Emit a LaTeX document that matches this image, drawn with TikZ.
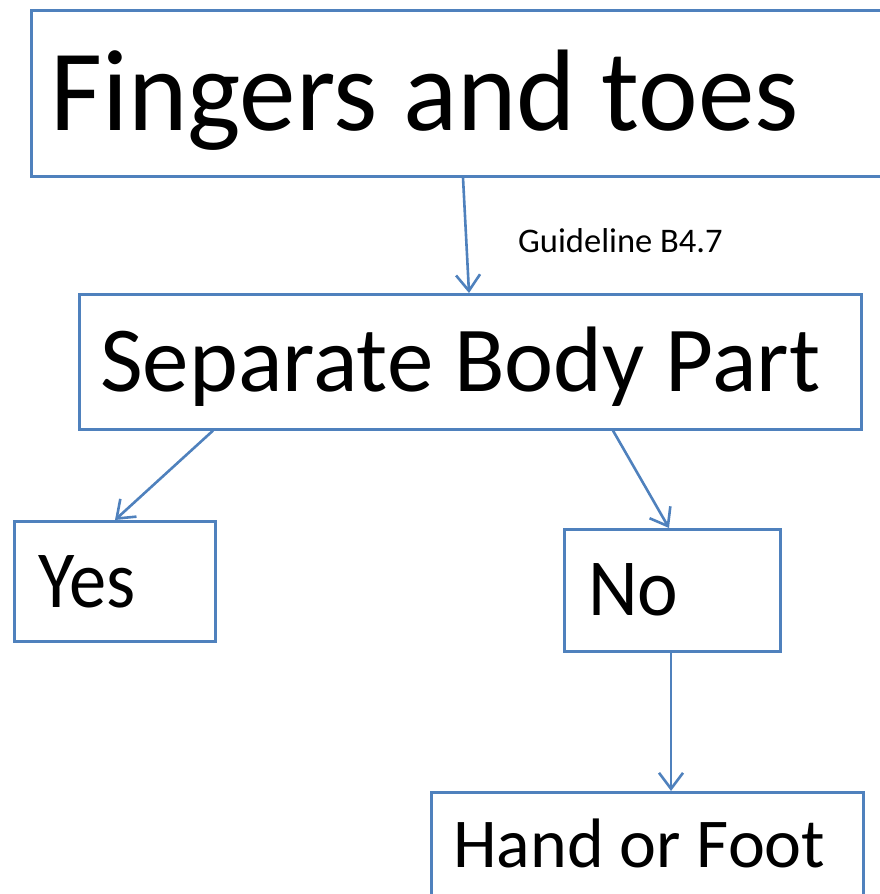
\documentclass[tikz,border=0pt]{standalone}
\usepackage{fontspec}
\setmainfont{Carlito}
\usetikzlibrary{arrows.meta}
\definecolor{boxblue}{RGB}{79,129,189}
\begin{document}
\begin{tikzpicture}[x=1pt,y=-1pt,
  box/.style={draw=boxblue,line width=2.6pt,rectangle,inner sep=0pt,anchor=north west},
  conn/.style={draw=boxblue,line width=2.6pt,-{Straight Barb[length=16pt,width=24pt,line width=2.6pt]}},
  txt/.style={anchor=base west,inner sep=0pt,text=black}]
\useasboundingbox (0,0) rectangle (880,894);
\clip (0,0) rectangle (880,894);
\node[box,minimum width=900pt,minimum height=166pt] (b1) at (30,9) {};
\node[box,minimum width=782pt,minimum height=135pt] (b2) at (78,293) {};
\node[box,minimum width=201pt,minimum height=120pt] (b3) at (13,520) {};
\node[box,minimum width=216pt,minimum height=122pt] (b4) at (563,528) {};
\node[box,minimum width=432pt,minimum height=130pt] (b5) at (430,791) {};
\node[txt,font=\fontsize{116}{120}\selectfont] (t1) at (50,130) {\scalebox{0.975}[1]{Fingers and toes}};
\node[txt,font=\fontsize{93}{100}\selectfont] (t2) at (100,391) {Separate Body Part};
\node[txt,font=\fontsize{81}{84}\selectfont] (t3) at (38,607) {\scalebox{0.92}[1]{Yes}};
\node[txt,font=\fontsize{81}{84}\selectfont] (t4) at (588,615) {\scalebox{0.95}[1]{No}};
\node[txt,font=\fontsize{70}{76}\selectfont] (t5) at (453,867) {Hand or Foot};
\node[txt,font=\fontsize{34.5}{38}\selectfont] (g) at (518,252) {Guideline B4.7};
\draw[conn] ([xshift=433pt]b1.south west) -- ([xshift=391pt]b2.north west);
\draw[conn] ([xshift=135pt]b2.south west) -- ([xshift=102pt]b3.north west);
\draw[conn] ([xshift=535pt]b2.south west) -- ([xshift=106pt]b4.north west);
\draw[conn] ([xshift=108pt]b4.south west) -- ([xshift=241pt]b5.north west);
\end{tikzpicture}
\end{document}
